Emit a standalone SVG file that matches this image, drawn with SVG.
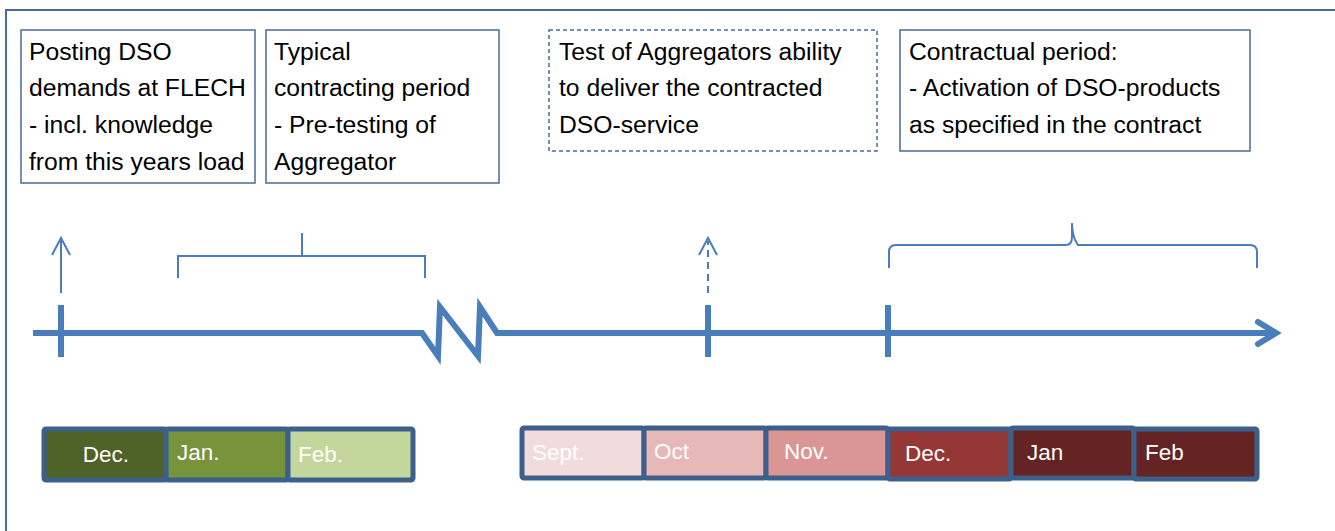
<svg xmlns="http://www.w3.org/2000/svg" width="1335" height="531" viewBox="0 0 1335 531">
<style>
.frame{fill:none;stroke:#4a6a98;stroke-width:2}
.box{fill:#fff;stroke:#4a6a98;stroke-width:1.5}
.dash{fill:#fff;stroke:#4a6a98;stroke-width:1.5;stroke-dasharray:4 3}
.t{font-family:"Liberation Sans",Arial,sans-serif;font-size:24.7px;fill:#000}
.axis{fill:none;stroke:#4a7ebb;stroke-width:6;stroke-linejoin:miter}
.tick{stroke:#4a7ebb;stroke-width:6}
.thin{fill:none;stroke:#4a7ebb;stroke-width:2}
.cell{stroke:#3c5f8c;stroke-width:5}
.m{font-family:"Liberation Sans",Arial,sans-serif;font-size:22.5px;fill:#fff}
</style>
<rect width="1335" height="531" fill="#fff"/>
<path class="frame" d="M6,531 V10 H1335"/>

<g id="box-posting">
<rect class="box" x="21" y="30" width="234" height="153"/>
<text class="t" x="29" y="60">Posting DSO</text>
<text class="t" x="29" y="96">demands at FLECH</text>
<text class="t" x="29" y="133">- incl. knowledge</text>
<text class="t" x="29" y="170">from this years load</text>
</g>
<g id="box-typical">
<rect class="box" x="266" y="30" width="233" height="153"/>
<text class="t" x="274" y="60">Typical</text>
<text class="t" x="274" y="96">contracting period</text>
<text class="t" x="274" y="133">- Pre-testing of</text>
<text class="t" x="274" y="170">Aggregator</text>
</g>
<g id="box-test">
<rect class="dash" x="549" y="30" width="328" height="121"/>
<text class="t" x="559" y="60">Test of Aggregators ability</text>
<text class="t" x="559" y="96">to deliver the contracted</text>
<text class="t" x="559" y="133">DSO-service</text>
</g>
<g id="box-contractual">
<rect class="box" x="900" y="30" width="350" height="121"/>
<text class="t" x="909" y="60">Contractual period:</text>
<text class="t" x="909" y="96">- Activation of DSO-products</text>
<text class="t" x="909" y="133">as specified in the contract</text>
</g>

<g id="connectors">
<path class="axis" d="M33,333 H422 L438,356 L440,307 L478,356 L480,307 L497,333 H1274"/>
<path class="axis" d="M1258,322 L1276,333 L1258,344" stroke-linecap="round" stroke-linejoin="round"/>
<line class="tick" x1="61" y1="305" x2="61" y2="357"/>
<line class="tick" x1="708" y1="305" x2="708" y2="357"/>
<line class="tick" x1="888" y1="305" x2="888" y2="357"/>
<line class="thin" x1="61" y1="293" x2="61" y2="239"/>
<path class="thin" d="M52,255 L61,238 L70,255"/>
<line class="thin" x1="708" y1="293" x2="708" y2="241" stroke-dasharray="7 5"/>
<path class="thin" d="M699,255 L708,238 L717,255"/>
<path class="thin" d="M178,278 V256 H425 V278 M302,256 V233"/>
<path class="thin" d="M889,268 V252 Q889,245 896,245 H1066 Q1072,245 1072,237 V223 Q1072,237 1078,245 H1250 Q1257,245 1257,252 V268"/>
</g>

<g id="months-1">
<rect class="cell" x="44" y="429" width="122" height="51" rx="2" fill="#4f6228"/>
<rect class="cell" x="166" y="429" width="122" height="51" rx="2" fill="#77933c"/>
<rect class="cell" x="288" y="429" width="125" height="51" rx="2" fill="#c3d69b"/>
<text class="m" x="106" y="462" text-anchor="middle">Dec.</text>
<text class="m" x="177" y="460">Jan.</text>
<text class="m" x="298" y="462">Feb.</text>
</g>
<g id="months-2">
<rect class="cell" x="522" y="428" width="122" height="50" rx="2" fill="#f2dcdb"/>
<rect class="cell" x="644" y="428" width="122" height="50" rx="2" fill="#e6b9b8"/>
<rect class="cell" x="766" y="428" width="122" height="50" rx="2" fill="#d99694"/>
<rect class="cell" x="888" y="429" width="123" height="50" rx="2" fill="#953735"/>
<rect class="cell" x="1011" y="428" width="123" height="50" rx="2" fill="#632423"/>
<rect class="cell" x="1134" y="429" width="123" height="50" rx="2" fill="#632423"/>
<text class="m" x="532" y="460">Sept.</text>
<text class="m" x="654" y="459">Oct</text>
<text class="m" x="784" y="459">Nov.</text>
<text class="m" x="905" y="461">Dec.</text>
<text class="m" x="1027" y="460">Jan</text>
<text class="m" x="1145" y="460">Feb</text>
</g>
</svg>
